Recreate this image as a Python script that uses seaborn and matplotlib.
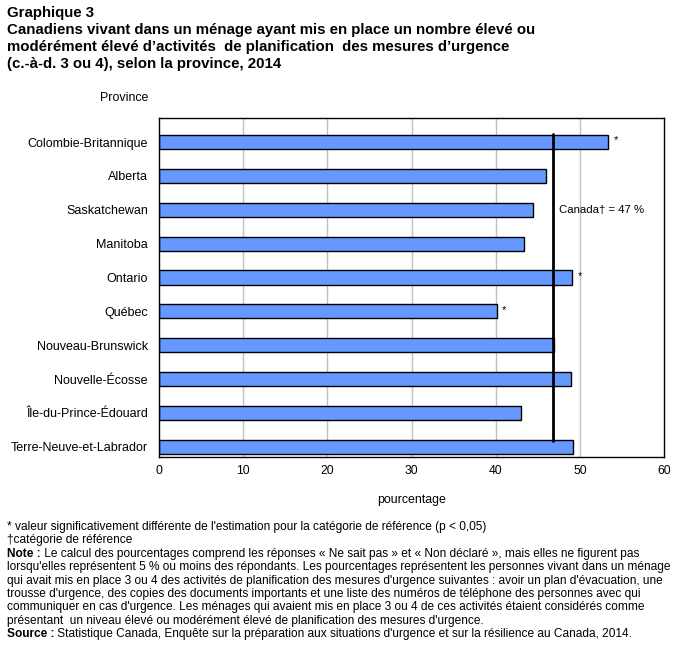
import matplotlib
matplotlib.use("Agg")
import matplotlib.pyplot as plt
import seaborn as sns
import pandas as pd

sns.set_theme(style="white")
plt.rcParams["font.family"] = ["Liberation Sans", "DejaVu Sans"]
plt.rcParams["text.color"] = "black"
plt.rcParams["axes.labelcolor"] = "black"
plt.rcParams["xtick.color"] = "black"
plt.rcParams["ytick.color"] = "black"

# data
provinces = [
    "Colombie-Britannique", "Alberta", "Saskatchewan", "Manitoba", "Ontario",
    "Québec", "Nouveau-Brunswick", "Nouvelle-Écosse", "Île-du-Prince-Édouard",
    "Terre-Neuve-et-Labrador",
]
pourcentage = [53.4, 46.0, 44.4, 43.4, 49.1, 40.1, 46.9, 49.0, 43.0, 49.2]
significatif = [True, False, False, False, True, True, False, False, False, False]
canada = 46.8
xticks = [0, 10, 20, 30, 40, 50, 60]

df = pd.DataFrame({"province": provinces, "pct": pourcentage})

W, H = 681, 647
fig = plt.figure(figsize=(W / 100, H / 100), dpi=100)
ax = fig.add_axes([159 / W, 1 - 457 / H, 505 / W, 339 / H])


def px(x, y):
    return x / W, 1 - y / H


sns.barplot(data=df, y="province", x="pct", orient="h", ax=ax,
            color="#6699FF", saturation=1, width=0.42,
            edgecolor="black", linewidth=1.0)

ax.set_xlim(0, 60)
ax.set_ylim(9.3, -0.71)
ax.set_xticks(xticks)
ax.set_xticklabels([str(t) for t in xticks], fontsize=8.7)
ax.tick_params(axis="y", labelsize=9, length=0, pad=8)
ax.tick_params(axis="x", length=0, pad=6)
ax.set_ylabel("")
ax.set_xlabel("pourcentage", fontsize=8.9, labelpad=12)
for x in xticks[1:-1]:
    ax.axvline(x, color="#c0c0c0", linewidth=1, zorder=0)
for s in ax.spines.values():
    s.set_color("black")
    s.set_linewidth(1)
    s.set_visible(True)

# canada reference line
ax.plot([canada, canada], [-0.24, 8.84], color="black", linewidth=2, zorder=5)
ax.text(47.5, 2.0, "Canada† = 47 %", fontsize=8.2, va="center", ha="left")

for i, (v, sig) in enumerate(zip(pourcentage, significatif)):
    if sig:
        ax.text(v + 0.6, i - 0.05, "*", fontsize=8, va="center", ha="left")

fig.text(*px(100, 98), "Province", fontsize=8.9, va="center", ha="left")

# title
title = ["Graphique 3",
         "Canadiens vivant dans un ménage ayant mis en place un nombre élevé ou",
         "modérément élevé d’activités  de planification  des mesures d’urgence",
         "(c.-à-d. 3 ou 4), selon la province, 2014"]
for i, line in enumerate(title):
    fig.text(*px(7, 13 + i * 17), line, fontsize=10.8, fontweight="bold",
             va="center", ha="left")

# footnotes
notes = [
    ("", "* valeur significativement différente de l'estimation pour la catégorie de référence (p < 0,05)"),
    ("", "†catégorie de référence"),
    ("Note :", " Le calcul des pourcentages comprend les réponses « Ne sait pas » et « Non déclaré », mais elles ne figurent pas"),
    ("", "lorsqu'elles représentent 5 % ou moins des répondants. Les pourcentages représentent les personnes vivant dans un ménage"),
    ("", "qui avait mis en place 3 ou 4 des activités de planification des mesures d'urgence suivantes : avoir un plan d'évacuation, une"),
    ("", "trousse d'urgence, des copies des documents importants et une liste des numéros de téléphone des personnes avec qui"),
    ("", "communiquer en cas d'urgence. Les ménages qui avaient mis en place 3 ou 4 de ces activités étaient considérés comme"),
    ("", "présentant  un niveau élevé ou modérément élevé de planification des mesures d'urgence."),
    ("Source :", " Statistique Canada, Enquête sur la préparation aux situations d'urgence et sur la résilience au Canada, 2014."),
]
fig.canvas.draw()
renderer = fig.canvas.get_renderer()
for i, (bold, txt) in enumerate(notes):
    x0, y0 = px(7, 527 + i * 13.4)
    if bold:
        t = fig.text(x0, y0, bold, fontsize=8.6, fontweight="bold", va="center", ha="left")
        bb = t.get_window_extent(renderer)
        x0 = bb.x1 / W
    fig.text(x0, y0, txt, fontsize=8.6, va="center", ha="left")

fig.savefig("out.png", dpi=100)
